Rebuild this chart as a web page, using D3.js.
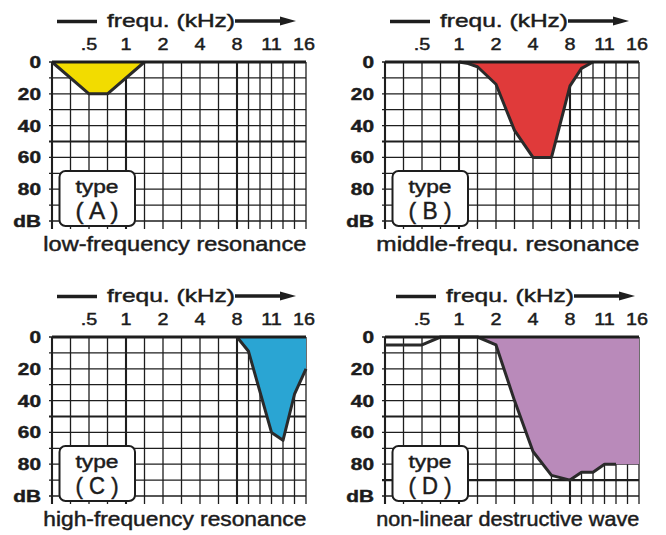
<!DOCTYPE html>
<html>
<head>
<meta charset="utf-8">
<script src="https://cdn.jsdelivr.net/npm/d3@7"></script>
<style>
  body { margin: 0; background: #fff; }
  svg { display: block; }
  text { font-family: "Liberation Sans", Arial, sans-serif; fill: #1c1c1c; stroke: #1c1c1c; stroke-width: 0.45px; }
</style>
</head>
<body>
<div id="chart"></div>
<script>
// Frequency grid (kHz), one vertical line each; the first 10 columns are wide, the last 6 narrow
const gridFreqs = [0.25, 0.375, 0.5, 0.75, 1, 1.5, 2, 3, 4, 6, 8, 9, 10, 11, 12.5, 14, 16];
const freqTicks = [0.5, 1, 2, 4, 8, 11, 16];
const freqTickLabels = ['.5', '1', '2', '4', '8', '11', '16'];
const dbGrid = [0, 10, 20, 30, 40, 50, 60, 70, 80, 90, 100];
const dbTicks = [0, 20, 40, 60, 80, 100];
const dbTickLabels = ['0', '20', '40', '60', '80', 'dB'];

// Hearing loss curves: [kHz, dB]
const curveA = [[0.25, 0], [0.5, 20], [0.75, 20], [1.5, 0]];
const curveB = [[1, 0], [1.25, 1], [1.5, 3], [2, 14], [3, 43], [4, 60], [6, 60], [8, 15], [9, 4], [10, 0]];
const curveC = [[8, 0], [9, 9], [11, 60], [12.5, 65], [14, 36], [16, 20]];
const curveD = [[0.25, 5], [0.5, 5], [0.75, 0], [1.5, 0], [2, 5], [3, 40], [4, 72], [6, 87], [8, 90],
  [9, 85], [10, 85], [11, 80], [12.5, 80]];
const tailD = [[16, 80]];

const panelLetters = ['A', 'B', 'C', 'D'];
const captions = ['low-frequency resonance', 'middle-frequ. resonance', 'high-frequency resonance', 'non-linear destructive wave'];
const fillColors = ['#f2dc00', '#e03a3a', '#2aa5d3', '#b98aba'];

const W = 666, H = 535;
const plotW = 254, plotH = 159;
const panels = [
  { left: 52, top: 62, curve: curveA, fill: curveA, titleDx: 0 },
  { left: 385, top: 62, curve: curveB, fill: curveB, titleDx: 0 },
  { left: 52, top: 337, curve: curveC, fill: curveC, titleDx: 0 },
  { left: 385, top: 337, curve: curveD, fill: curveD.filter(d => d[0] >= 1.5).concat(tailD), titleDx: 6, thick90: true }
];

const svg = d3.select('#chart').append('svg')
  .attr('width', W)
  .attr('height', H);

// column index -> pixels (wide columns up to 8 kHz, narrow after)
const colScale = d3.scaleLinear().domain([0, 10, 16]).range([0, 185, plotW]);
const x = d3.scaleLinear().domain(gridFreqs).range(gridFreqs.map((f, i) => colScale(i)));
const y = d3.scaleLinear().domain([0, 100]).range([0, plotH]);

const ink = '#1e1e1e';

function stretched(g, tx, ty, str, sx, anchor, size, weight) {
  return g.append('text')
    .attr('transform', `translate(${tx},${ty}) scale(${sx},1)`)
    .attr('text-anchor', anchor)
    .style('font-size', size + 'px')
    .style('font-weight', weight || 'normal')
    .text(str);
}

panels.forEach((p, i) => {
  const g = svg.append('g').attr('transform', `translate(${p.left},${p.top})`);

  // grid
  g.selectAll('.hgrid')
    .data(dbGrid)
    .enter()
    .append('line')
    .attr('x1', -3)
    .attr('x2', plotW)
    .attr('y1', d => y(d))
    .attr('y2', d => y(d))
    .attr('stroke', ink)
    .attr('stroke-width', d => (d === 50 || (p.thick90 && d === 90)) ? 2.2 : 1.3);

  g.selectAll('.vgrid')
    .data(gridFreqs)
    .enter()
    .append('line')
    .attr('x1', d => x(d))
    .attr('x2', d => x(d))
    .attr('y1', 0)
    .attr('y2', plotH + 8)
    .attr('stroke', ink)
    .attr('stroke-width', (d, j) => (d === 1 || d === 8 || j === 0) ? 2.1 : 1.3);

  // filled loss region
  const area = d3.area()
    .x(d => x(d[0]))
    .y0(0)
    .y1(d => y(d[1]));

  g.append('path')
    .datum(p.fill)
    .attr('d', area)
    .attr('fill', fillColors[i]);

  const line = d3.line()
    .x(d => x(d[0]))
    .y(d => y(d[1]));

  g.append('path')
    .datum(p.curve)
    .attr('d', line)
    .attr('fill', 'none')
    .attr('stroke', '#2a2a2a')
    .attr('stroke-width', 3)
    .attr('stroke-linejoin', 'round');

  // 0 dB line on top
  g.append('line')
    .attr('x1', 0)
    .attr('x2', plotW)
    .attr('y1', 0)
    .attr('y2', 0)
    .attr('stroke', ink)
    .attr('stroke-width', 3);

  // frequency tick labels
  freqTicks.forEach((f, j) => {
    stretched(g, x(f) - (f === 16 ? 2 : 0), -12, freqTickLabels[j], 1.2, 'middle', 16.5);
  });

  // dB tick labels
  dbTicks.forEach((d, j) => {
    stretched(g, -11, y(d) + 6, dbTickLabels[j], 1.3, 'end', 16, 'bold');
  });

  // title: bar, text, arrow
  const t = g.append('g').attr('transform', `translate(${p.titleDx},0)`);
  t.append('line')
    .attr('x1', 5).attr('x2', 45)
    .attr('y1', -40.5).attr('y2', -40.5)
    .attr('stroke', ink).attr('stroke-width', 3.3);
  t.append('text')
    .attr('x', 55)
    .attr('y', -35.3)
    .attr('textLength', 128)
    .attr('lengthAdjust', 'spacingAndGlyphs')
    .style('font-size', '19px')
    .text('frequ. (kHz)');
  t.append('line')
    .attr('x1', 183).attr('x2', 230)
    .attr('y1', -41).attr('y2', -41)
    .attr('stroke', ink).attr('stroke-width', 3.3);
  t.append('path')
    .attr('d', 'M228,-45.5 L244,-41 L228,-36.5 Z')
    .attr('fill', ink);

  // type box
  g.append('rect')
    .attr('x', 7.5).attr('y', 109)
    .attr('width', 75.5).attr('height', 55)
    .attr('rx', 6)
    .attr('fill', '#fff')
    .attr('stroke', ink)
    .attr('stroke-width', 2);
  g.append('text')
    .attr('x', 45).attr('y', 130.5)
    .attr('text-anchor', 'middle')
    .attr('textLength', 43)
    .attr('lengthAdjust', 'spacingAndGlyphs')
    .style('font-size', '18px')
    .text('type');
  g.append('text')
    .attr('x', 45).attr('y', 156.5)
    .attr('text-anchor', 'middle')
    .attr('textLength', 43)
    .attr('lengthAdjust', 'spacingAndGlyphs')
    .style('font-size', '24px')
    .text(`( ${panelLetters[i]} )`);

  // caption
  g.append('text')
    .attr('x', -8.7)
    .attr('y', 188.7)
    .attr('textLength', 263)
    .attr('lengthAdjust', 'spacingAndGlyphs')
    .style('font-size', '19.5px')
    .text(captions[i]);
});
</script>
</body>
</html>
